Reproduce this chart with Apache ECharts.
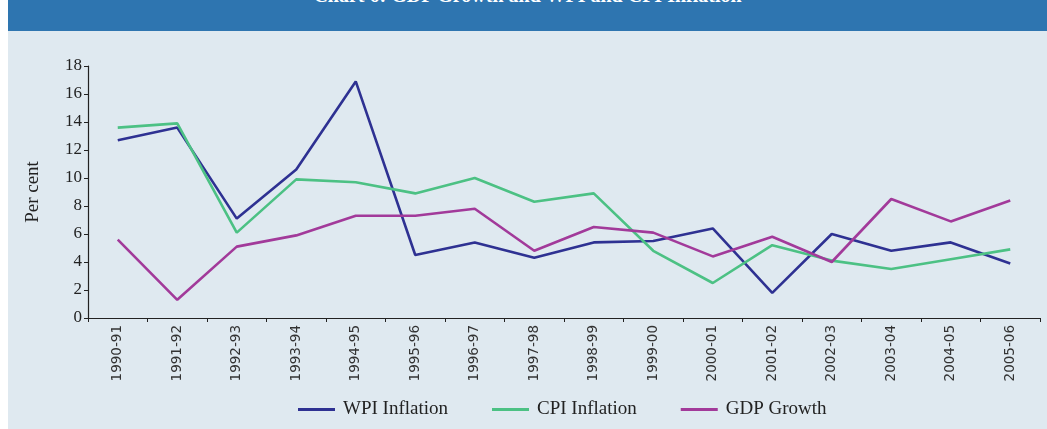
<!DOCTYPE html>
<html>
<head>
<meta charset="utf-8">
<script src="https://cdn.jsdelivr.net/npm/echarts@6/dist/echarts.min.js"></script>
<style>
  html, body { margin: 0; padding: 0; background: #ffffff; }
  #chart { position: absolute; left: 8px; top: 0; width: 1039px; height: 429px; background: #dfe9f0; }
  #band { position: absolute; left: 8px; top: 0; width: 1039px; height: 31px; background: #2e75b0; overflow: hidden; }
  #band span { position: absolute; left: 0; right: 0; top: -16px; text-align: center; color: #fff;
    font: bold 20px "Liberation Serif", "DejaVu Serif", serif; }
</style>
</head>
<body>
<div id="chart"></div>
<div id="band"><span>Chart 6: GDP Growth and WPI and CPI Inflation</span></div>
<script>
const years = ['1990-91', '1991-92', '1992-93', '1993-94', '1994-95', '1995-96', '1996-97', '1997-98',
  '1998-99', '1999-00', '2000-01', '2001-02', '2002-03', '2003-04', '2004-05', '2005-06']
const wpi = [12.7, 13.6, 7.1, 10.6, 16.9, 4.5, 5.4, 4.3, 5.4, 5.5, 6.4, 1.8, 6.0, 4.8, 5.4, 3.9]
const cpi = [13.6, 13.9, 6.1, 9.9, 9.7, 8.9, 10.0, 8.3, 8.9, 4.8, 2.5, 5.2, 4.1, 3.5, 4.2, 4.9]
const gdp = [5.6, 1.3, 5.1, 5.9, 7.3, 7.3, 7.8, 4.8, 6.5, 6.1, 4.4, 5.8, 4.0, 8.5, 6.9, 8.4]

const serif = '"Liberation Serif", "DejaVu Serif", serif'
const chart = echarts.init(document.getElementById('chart'))

const mk = (name, data, color) => ({
  name, type: 'line', data, symbol: 'none',
  lineStyle: { color, width: 2.6 }, itemStyle: { color },
  animation: false
})

chart.setOption({
  backgroundColor: 'transparent',
  grid: { left: 80, right: 7, top: 66, bottom: 111 },
  legend: {
    top: 395, left: 285,
    itemWidth: 37, itemHeight: 3, itemGap: 44,
    icon: 'rect',
    textStyle: { fontFamily: serif, fontSize: 19, color: '#222', padding: [0, 0, 0, 3] },
    data: ['WPI Inflation', 'CPI Inflation', 'GDP Growth']
  },
  xAxis: {
    type: 'category', data: years, boundaryGap: true,
    axisLine: { lineStyle: { color: '#222', width: 1.2 } },
    axisTick: { show: true, length: 4, lineStyle: { color: '#222' } },
    axisLabel: { rotate: 90, color: '#333', fontSize: 13.5, fontFamily: '"DejaVu Sans", sans-serif', margin: 7, interval: 0 }
  },
  yAxis: {
    type: 'value', min: 0, max: 18, interval: 2,
    name: 'Per cent', nameLocation: 'middle', nameGap: 45, nameRotate: 90,
    nameTextStyle: { fontFamily: serif, fontSize: 19, color: '#222' },
    axisLine: { show: true, lineStyle: { color: '#222', width: 1.2 } },
    axisTick: { show: true, length: 4, lineStyle: { color: '#222' } },
    axisLabel: { color: '#222', fontSize: 17, fontFamily: serif, margin: 6 },
    splitLine: { show: false }
  },
  series: [
    mk('WPI Inflation', wpi, '#2e3192'),
    mk('CPI Inflation', cpi, '#4cc184'),
    mk('GDP Growth', gdp, '#a23a9a')
  ]
})
</script>
</body>
</html>
